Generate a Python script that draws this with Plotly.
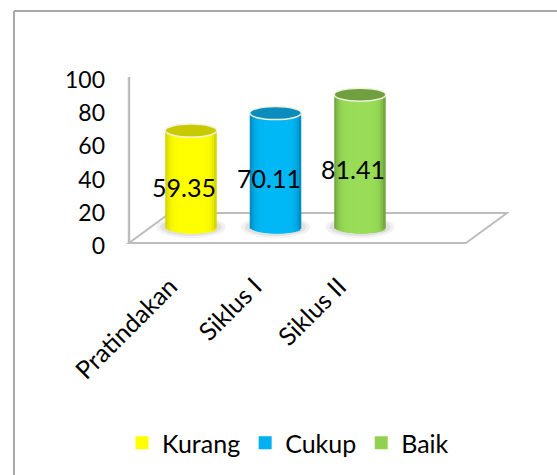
import plotly.graph_objects as go

categories = ["Pratindakan", "Siklus I", "Siklus II"]
values = [59.35, 70.11, 81.41]
legend_names = ["Kurang", "Cukup", "Baik"]
y_ticks = [0, 20, 40, 60, 80, 100]

W, H = 557, 475
CX0, CSTEP = 191.0, 84.5      # px of first category, px per category
Y0, PXU = 227.0, 1.625        # px of value 0, px per unit
BAR_W = 0.61
RY = 6.5
N = 26

center_col = [(255, 255, 0), (0, 184, 245), (152, 220, 88)]
edge_col = [(205, 205, 0), (0, 130, 180), (105, 155, 55)]
top_col = ["#c9c900", "#0a8cbc", "#6f9f3f"]
legend_col = ["#ffff00", "#00b0f0", "#92d050"]
FONT = "Lato, Carlito, Calibri, sans-serif"


def px(x):
    return x / W


def py(y):
    return 1 - y / H


def mix(a, b, t):
    return "rgb(%d,%d,%d)" % tuple(round(a[k] + (b[k] - a[k]) * t) for k in range(3))


fig = go.Figure()

# cylinders as narrow shaded strips, every strip takes its height from values
for i in range(N):
    u = -1 + (2 * i + 1) / N
    t = 1 - abs(u) ** 6
    t = max(0.0, min(1.0, t))
    d = RY * (1 - u * u) ** 0.5 / PXU
    step = BAR_W / N
    left = -BAR_W / 2 + i * step
    fig.add_trace(go.Bar(
        x=list(range(len(values))),
        y=[v + d for v in values],
        base=[-d] * len(values),
        width=step * (2.5 if i < N - 2 else 1.0),
        offset=left,
        marker=dict(color=[mix(e, c, t) for e, c in zip(edge_col, center_col)], line_width=0),
        showlegend=False, hoverinfo="skip",
    ))

# legend entries
for name, col in zip(legend_names, legend_col):
    fig.add_trace(go.Scatter(x=[None], y=[None], mode="markers", name=name,
                             marker=dict(symbol="square", size=13, color=col)))

# invisible trace which carries the visible axes
fig.add_trace(go.Scatter(x=categories, y=[0] * len(categories), xaxis="x2", yaxis="y2",
                         mode="markers", marker=dict(opacity=0), showlegend=False, hoverinfo="skip"))

GRID = "#bdbdbd"
shapes = [
    dict(type="line", xref="paper", yref="paper", x0=px(14), x1=px(14), y0=py(11), y1=py(475),
         line=dict(color="#a8a8a8", width=2), layer="below"),
    dict(type="line", xref="paper", yref="paper", x0=px(14), x1=px(557), y0=py(11), y1=py(11),
         line=dict(color="#a8a8a8", width=2), layer="below"),
    dict(type="line", xref="paper", yref="paper", x0=px(129), x1=px(129), y0=py(77), y1=py(243),
         line=dict(color=GRID, width=2.5), layer="below"),
    dict(type="path", xref="paper", yref="paper",
         path="M %.4f,%.4f L %.4f,%.4f L %.4f,%.4f L %.4f,%.4f Z" % (
             px(129), py(243), px(466), py(243), px(507), py(213), px(170), py(213)),
         fillcolor="white", line=dict(color=GRID, width=2), layer="below"),
]
for i, v in enumerate(values):
    # soft floor shadow
    for grow, op in [(9, 0.10), (5, 0.15)]:
        shapes.append(dict(type="circle", xref="x", yref="y", xsizemode="scaled", ysizemode="pixel",
                           yanchor=0, y0=-RY - grow / 2, y1=RY + grow / 2,
                           x0=i - BAR_W / 2 - grow / CSTEP, x1=i + BAR_W / 2 + grow / CSTEP,
                           fillcolor="#808080", opacity=op, line_width=0, layer="below"))
    # top of the cylinder
    shapes.append(dict(type="circle", xref="x", yref="y", ysizemode="pixel", yanchor=v,
                       y0=-RY, y1=RY, x0=i - BAR_W / 2, x1=i + BAR_W / 2,
                       fillcolor=top_col[i], line=dict(color="#eef2d8", width=1.5), layer="above"))

annotations = [
    dict(x=i, y=v / 2, xref="x", yref="y", text=f"{v:.2f}", showarrow=False,
         xshift=-7, yshift=-8, font=dict(family=FONT, size=25, color="#000000"))
    for i, v in enumerate(values)
]

fig.update_layout(
    width=W, height=H, autosize=False,
    margin=dict(l=0, r=0, t=0, b=0),
    paper_bgcolor="white", plot_bgcolor="rgba(0,0,0,0)",
    barmode="overlay",
    font=dict(family=FONT, size=23, color="#000000"),
    shapes=shapes, annotations=annotations,
    xaxis=dict(domain=[0, 1], range=[-CX0 / CSTEP, (W - CX0) / CSTEP], visible=False, fixedrange=True),
    yaxis=dict(domain=[0, 1], range=[(Y0 - H) / PXU, Y0 / PXU], visible=False, fixedrange=True),
    xaxis2=dict(overlaying="x", anchor="free", position=py(266), type="category",
                range=[-(CX0 - 21) / CSTEP, (W - CX0 + 21) / CSTEP],
                tickangle=-45, ticklen=0, showgrid=False, showline=False, zeroline=False,
                tickfont=dict(family=FONT, size=25, color="#000000"), fixedrange=True),
    yaxis2=dict(overlaying="y", anchor="free", position=px(105), side="left",
                range=[(246 - H) / 1.66, 246 / 1.66], tickvals=y_ticks,
                ticklen=0, showgrid=False, showline=False, zeroline=False,
                tickfont=dict(family=FONT, size=23, color="#000000"), fixedrange=True),
    legend=dict(orientation="h", x=288 / W, xanchor="center", y=py(443), yanchor="middle",
                font=dict(family=FONT, size=25, color="#000000"), bgcolor="rgba(0,0,0,0)"),
    showlegend=True,
)

fig.write_html("out.html", config={"displayModeBar": False},
               post_script="document.body.style.margin='0';")
